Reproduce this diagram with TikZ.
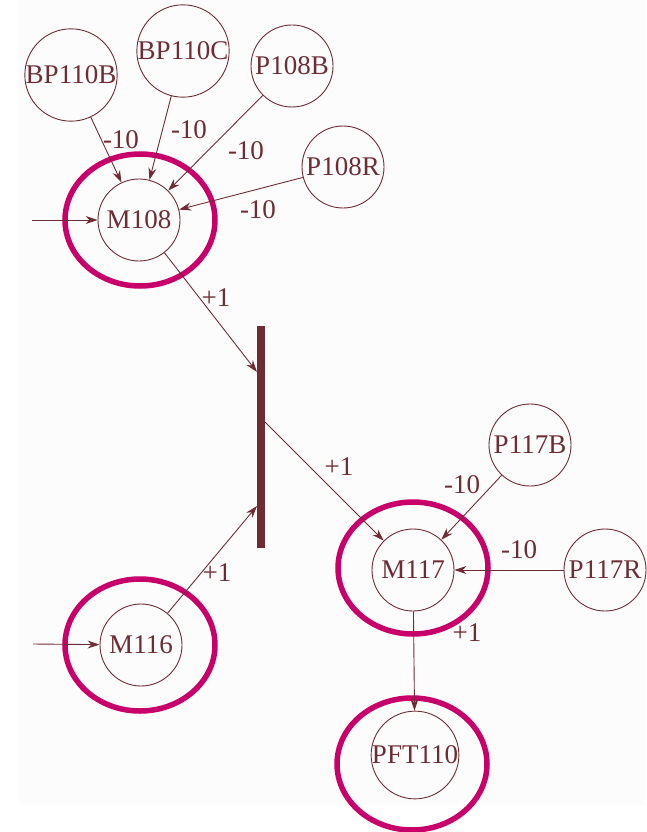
\documentclass[tikz,border=0pt]{standalone}
\usepackage{fontspec}
\setmainfont{Liberation Serif}
\usetikzlibrary{shapes.geometric,arrows.meta}
\definecolor{brn}{RGB}{110,45,52}
\definecolor{mag}{RGB}{200,0,106}
\definecolor{bgc}{RGB}{252,252,253}
\begin{document}
\begin{tikzpicture}[x=1pt,y=-1pt,
  place/.style={circle,draw=brn,line width=0.9pt,minimum size=82pt,inner sep=0pt,text=brn,font=\fontsize{27}{27}\selectfont},
  hl/.style={ellipse,draw=mag,line width=5.5pt,minimum width=150pt,minimum height=132pt,inner sep=0pt},
  arc/.style={draw=brn,line width=0.9pt,-{Stealth[length=12pt,width=8pt]}},
  lbl/.style={text=brn,font=\fontsize{27}{27}\selectfont,inner sep=0pt}]
\useasboundingbox (0,0) rectangle (646,832);
\fill[bgc] (18,0) rectangle (646,805);

% places
\node[place] (BP110B) at (71,75) {BP110B};
\node[place] (BP110C) at (183,51) {BP110C};
\node[place] (P108B) at (292,66) {P108B};
\node[place] (P108R) at (343,167) {P108R};
\node[place] (M108) at (139,220) {M108};
\node[place] (M116) at (141,645) {M116};
\node[place] (M117) at (413,570) {M117};
\node[place] (P117B) at (530,445) {P117B};
\node[place] (P117R) at (605,570) {P117R};
\node[place] (PFT110) at (415,755) {PFT110};

% transition bar
\node[fill=brn,inner sep=0pt,minimum width=8pt,minimum height=222pt] (bar) at (261,437) {};
\coordinate (b1) at (257,372);
\coordinate (b2) at (265,422);
\coordinate (b3) at (257,506);

% input stubs
\coordinate (in108) at (32,220);
\coordinate (in116) at (33,644);

% highlight ellipses
\node[hl] (E108) at (140,220) {};
\node[hl] (E116) at (140,645) {};
\node[hl] (E117) at (413,568) {};
\node[hl] (EPFT) at (412,764) {};

% arcs
\draw[arc] (BP110B) -- (M108);
\draw[arc] (BP110C) -- (M108);
\draw[arc] (P108B) -- (M108);
\draw[arc] (P108R) -- (M108);
\draw[arc] (in108) -- (M108);
\draw[arc] (M108) -- (b1);
\draw[arc] (b2) -- (M117);
\draw[arc] (in116) -- (M116);
\draw[arc] (M116) -- (b3);
\draw[arc] (P117B) -- (M117);
\draw[arc] (P117R) -- (M117);
\draw[arc] (M117) -- (PFT110);

% labels
\node[lbl] (l1) at (121,140) {-10};
\node[lbl] (l2) at (189,130) {-10};
\node[lbl] (l3) at (246,151) {-10};
\node[lbl] (l4) at (258,210) {-10};
\node[lbl] (l5) at (216,298) {+1};
\node[lbl] (l6) at (339,467) {+1};
\node[lbl] (l7) at (462,485) {-10};
\node[lbl] (l8) at (519,550) {-10};
\node[lbl] (l9) at (217,573) {+1};
\node[lbl] (l10) at (467,633) {+1};
\end{tikzpicture}
\end{document}
